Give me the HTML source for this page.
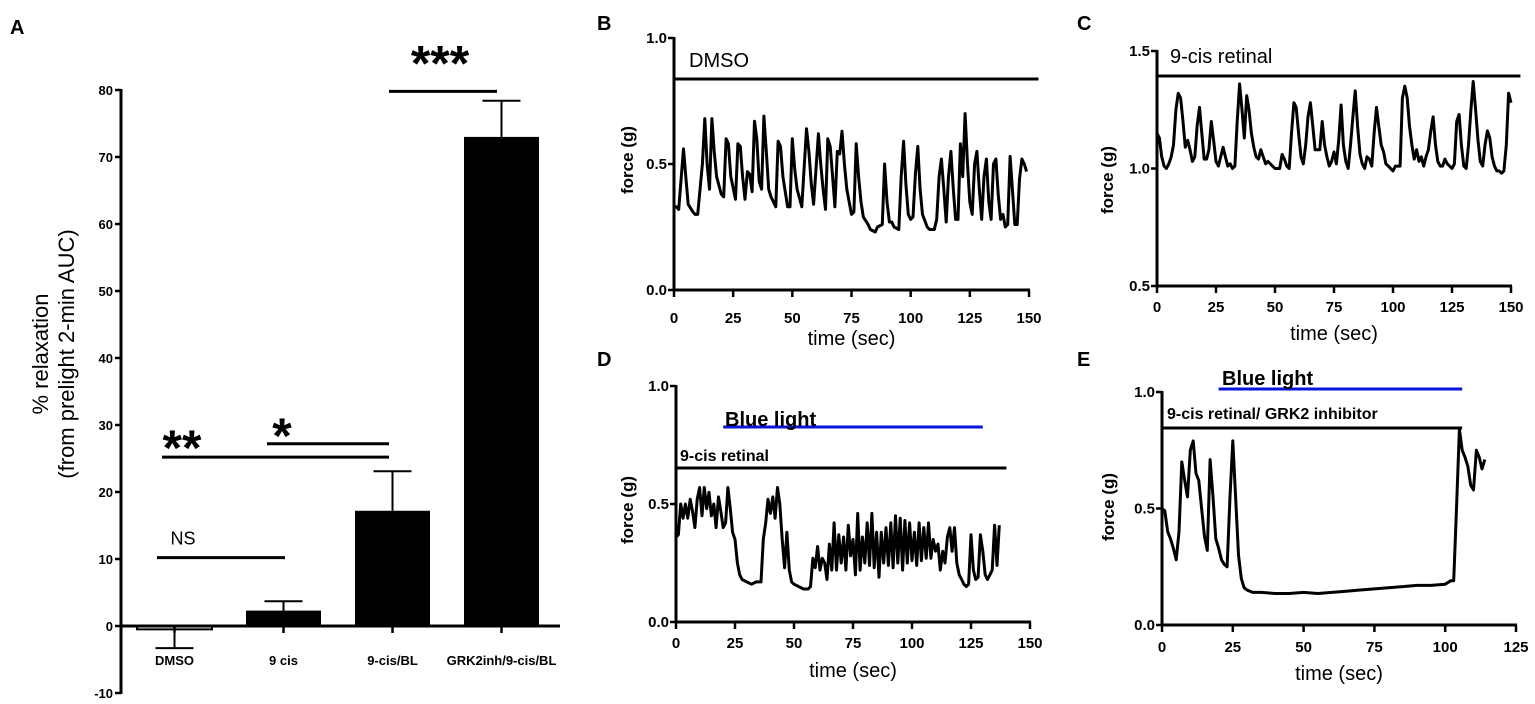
<!DOCTYPE html>
<html><head><meta charset="utf-8"><style>
html,body{margin:0;padding:0;background:#fff;}
svg{display:block;font-family:"Liberation Sans",Arial,sans-serif;}
</style></head><body>
<svg id="fig" width="1535" height="704" viewBox="0 0 1535 704">
<text x="10" y="34" font-size="20" font-weight="bold">A</text>
<text x="597" y="30" font-size="20" font-weight="bold">B</text>
<text x="1077" y="30" font-size="20" font-weight="bold">C</text>
<text x="597" y="366" font-size="20" font-weight="bold">D</text>
<text x="1077" y="366" font-size="20" font-weight="bold">E</text>
<g id="gA"></g>
<g id="gB"></g>
<g id="gC"></g>
<g id="gD"></g>
<g id="gE"></g>
</svg>
<script>
// ---- Panel A data ----
const barCategories = ["DMSO", "9 cis", "9-cis/BL", "GRK2inh/9-cis/BL"];
const barValues = [-0.5, 2.3, 17.2, 73.0];
const barErrors = [2.8, 1.4, 5.9, 5.4];
const barTicks = [-10, 0, 10, 20, 30, 40, 50, 60, 70, 80];
const sigLabels = ["NS", "**", "*", "***"];
const sigLevels = [10.2, 25.2, 27.2, 79.8];
const sigFrom = [0, 0, 1, 2.5];
const sigTo = [1, 2, 2, 3];

// ---- Panel B data (time s, force g) ----
const bTime = [0,1,2,4,5,6,8,9,10,12,13,14,15,16,17,18,20,21,22,23,24,26,27,28,29,30,31,32,33,34,35,36,37,38,39,40,41,43,44,45,46,48,49,50,51,52,54,56,57,58,59,61,62,63,64,65,66,67,68,69,70,71,72,73,75,76,77,78,79,80,82,83,85,86,88,89,90,91,92,93,95,96,97,98,99,100,101,102,103,104,105,107,108,110,111,112,113,114,115,116,117,118,119,120,121,122,123,124,125,126,127,128,129,130,131,132,133,134,135,136,137,138,139,140,141,142,143,144,145,146,147,148,149];
const bForce = [0.33,0.33,0.32,0.56,0.45,0.34,0.31,0.30,0.30,0.50,0.68,0.50,0.40,0.68,0.55,0.45,0.38,0.37,0.60,0.58,0.45,0.36,0.58,0.57,0.45,0.36,0.47,0.46,0.39,0.67,0.60,0.43,0.40,0.69,0.55,0.40,0.37,0.33,0.59,0.57,0.45,0.33,0.33,0.60,0.48,0.40,0.33,0.64,0.55,0.42,0.34,0.62,0.50,0.40,0.32,0.60,0.57,0.45,0.33,0.55,0.54,0.63,0.50,0.40,0.30,0.31,0.58,0.45,0.35,0.29,0.26,0.24,0.23,0.25,0.26,0.50,0.35,0.27,0.27,0.25,0.24,0.45,0.59,0.42,0.30,0.28,0.29,0.46,0.57,0.40,0.30,0.25,0.24,0.24,0.28,0.45,0.52,0.40,0.27,0.45,0.55,0.40,0.28,0.28,0.58,0.45,0.70,0.50,0.35,0.30,0.50,0.55,0.40,0.28,0.45,0.52,0.35,0.28,0.50,0.52,0.38,0.28,0.30,0.25,0.26,0.53,0.40,0.26,0.26,0.44,0.52,0.50,0.47];
const bTicksX = [0,25,50,75,100,125,150];
const bTicksY = ["0.0","0.5","1.0"];

// ---- Panel C data ----
const cTime = [0,1,2,3,4,5,6,7,8,9,10,11,12,13,14,15,16,17,18,19,20,21,22,23,24,25,26,27,28,29,30,31,32,33,34,35,36,37,38,39,40,41,42,43,44,45,46,47,48,50,52,53,54,55,56,57,58,59,60,61,62,63,64,65,66,67,68,69,70,71,72,73,74,75,76,77,78,79,80,81,82,83,84,85,86,87,88,89,90,91,92,93,94,95,96,97,98,99,100,101,103,104,105,106,107,108,109,110,111,112,113,114,115,116,117,118,119,120,121,122,123,124,125,126,127,128,129,130,131,132,133,134,135,136,137,138,139,140,141,142,143,144,145,146,147,148,149,150];
const cForce = [1.15,1.13,1.05,1.01,1.00,1.02,1.05,1.10,1.25,1.32,1.30,1.20,1.09,1.12,1.08,1.03,1.05,1.18,1.26,1.15,1.04,1.04,1.08,1.20,1.12,1.03,1.01,1.05,1.09,1.05,1.01,1.02,1.00,1.01,1.20,1.36,1.25,1.13,1.31,1.25,1.15,1.09,1.05,1.04,1.08,1.05,1.02,1.03,1.02,1.00,1.00,1.06,1.04,1.01,1.00,1.15,1.28,1.26,1.15,1.05,1.02,1.10,1.22,1.28,1.18,1.08,1.08,1.08,1.20,1.10,1.05,1.01,1.03,1.07,1.02,1.12,1.27,1.10,1.03,1.00,1.10,1.22,1.33,1.18,1.06,1.02,1.00,1.05,1.04,1.01,1.15,1.26,1.18,1.10,1.07,1.02,1.01,1.00,0.99,1.01,1.01,1.30,1.35,1.30,1.18,1.10,1.04,1.08,1.03,1.05,1.01,1.05,1.08,1.16,1.22,1.10,1.03,1.01,1.01,1.04,1.02,1.01,1.00,1.02,1.20,1.23,1.10,1.01,1.00,1.10,1.25,1.37,1.25,1.12,1.03,1.01,1.10,1.16,1.13,1.05,1.01,0.99,0.99,0.98,0.99,1.10,1.32,1.28];
const cTicksX = [0,25,50,75,100,125,150];
const cTicksY = ["0.5","1.0","1.5"];

// ---- Panel D data ----
const dTime = [0,1,2,3,4,5,6,7,8,9,10,11,12,13,14,15,16,17,18,19,20,21,22,23,24,25,26,27,28,30,32,34,36,37,38,39,40,41,42,43,44,45,46,47,48,49,50,52,54,56,57,58,59,60,61,62,63,64,65,66,67,68,69,70,71,72,73,74,75,76,77,78,79,80,81,82,83,84,85,86,87,88,89,90,91,92,93,94,95,96,97,98,99,100,101,102,103,104,105,106,107,108,109,110,111,112,113,114,115,116,117,118,119,120,121,122,123,124,125,126,127,128,129,130,131,132,133,134,135,136,137];
const dForce = [0.36,0.37,0.50,0.44,0.50,0.44,0.52,0.47,0.40,0.52,0.57,0.45,0.57,0.48,0.55,0.45,0.50,0.40,0.53,0.47,0.40,0.42,0.57,0.48,0.38,0.35,0.25,0.20,0.18,0.17,0.16,0.17,0.17,0.35,0.42,0.52,0.46,0.53,0.44,0.57,0.50,0.35,0.23,0.38,0.22,0.17,0.16,0.15,0.14,0.14,0.15,0.27,0.23,0.32,0.22,0.27,0.25,0.18,0.33,0.22,0.42,0.22,0.37,0.25,0.36,0.22,0.41,0.28,0.35,0.20,0.46,0.22,0.36,0.25,0.42,0.24,0.46,0.23,0.38,0.19,0.38,0.25,0.40,0.24,0.42,0.23,0.45,0.25,0.44,0.22,0.43,0.25,0.42,0.26,0.38,0.24,0.42,0.26,0.40,0.27,0.42,0.27,0.35,0.30,0.33,0.22,0.30,0.25,0.36,0.40,0.30,0.40,0.25,0.20,0.18,0.16,0.15,0.16,0.37,0.22,0.18,0.19,0.37,0.30,0.20,0.18,0.20,0.22,0.41,0.24,0.41];
const dTicksX = [0,25,50,75,100,125,150];
const dTicksY = ["0.0","0.5","1.0"];

// ---- Panel E data ----
const eTime = [0,1,2,3,4,5,6,7,8,9,10,11,12,13,14,15,16,17,18,19,20,21,22,23,24,25,26,27,28,29,30,32,35,40,45,50,55,60,65,70,75,80,85,90,95,100,102,103,104,105,106,107,108,109,110,111,112,113,114];
const eForce = [0.50,0.49,0.40,0.37,0.33,0.28,0.40,0.70,0.62,0.55,0.75,0.79,0.65,0.62,0.50,0.38,0.32,0.71,0.55,0.37,0.33,0.28,0.26,0.25,0.55,0.79,0.55,0.30,0.20,0.16,0.15,0.14,0.14,0.135,0.135,0.14,0.135,0.14,0.145,0.15,0.155,0.16,0.165,0.17,0.17,0.175,0.19,0.19,0.50,0.84,0.75,0.72,0.68,0.60,0.58,0.75,0.72,0.67,0.71];
const eTicksX = [0,25,50,75,100,125];
const eTicksY = ["0.0","0.5","1.0"];

const NS = "http://www.w3.org/2000/svg";
function mk(parent, tag, attrs, text){
  const el = document.createElementNS(NS, tag);
  for (const k in attrs) el.setAttribute(k, attrs[k]);
  if (text !== undefined) el.textContent = text;
  parent.appendChild(el);
  return el;
}

// ===== Panel A =====
(function(){
  const g = document.getElementById('gA');
  const ax = 121, y0 = 626, pxPer = 6.7;
  const ys = v => y0 - v * pxPer;
  const cx0 = 174.5, step = 109, bw = 75;
  const xs = i => cx0 + i * step;
  let l = mk(g,'line',{x1:ax,y1:ys(80)-1,x2:ax,y2:ys(-10)+1,stroke:'#000','stroke-width':3});
  
  
  barTicks.forEach(t=>{
    const tk = mk(g,'line',{x1:ax-6,y1:ys(t),x2:ax,y2:ys(t),stroke:'#000','stroke-width':2.5});
    
    
    const tx = mk(g,'text',{x:ax-8,y:ys(t)+5,'font-size':13,'font-weight':'bold','text-anchor':'end'},String(t));
    
    
  });
  barValues.forEach((v,i)=>{
    const top = Math.min(ys(v), y0), h = Math.abs(ys(v)-y0);
    const r = mk(g,'rect',{x:xs(i)-bw/2,y:top,width:bw,height:Math.max(h,1),fill: v<0?'#fff':'#000',stroke:'#000','stroke-width': v<0?2:0});
    
    
    const e = v + (v<0 ? -barErrors[i] : barErrors[i]);
    const el = mk(g,'path',{d:`M${xs(i)},${ys(v)} L${xs(i)},${ys(e)} M${xs(i)-19},${ys(e)} L${xs(i)+19},${ys(e)}`,stroke:'#000','stroke-width':2,fill:'none'});
    
    
    const tk = mk(g,'line',{x1:xs(i),y1:y0,x2:xs(i),y2:y0+7,stroke:'#000','stroke-width':2.5});
    
    
    const lb = mk(g,'text',{x:xs(i),y:665,'font-size':13,'font-weight':'bold','text-anchor':'middle'},barCategories[i]);
    
    
  });
  const xa = mk(g,'line',{x1:ax,y1:y0,x2:560,y2:y0,stroke:'#000','stroke-width':3});
  
  
  const sx1 = [157,162,267,389], sx2=[285,389,389,497];
  sigLabels.forEach((s,i)=>{
    const y = ys(sigLevels[i]);
    const ln = mk(g,'line',{x1:sx1[i],y1:y,x2:sx2[i],y2:y,stroke:'#000','stroke-width':3});
    
    
    let tx, ty, fs;
    if (s==='NS'){tx=183;ty=y-13;fs=18;}
    else if(s==='**'){tx=182;ty=y+8;fs=50;}
    else if(s==='*'){tx=282;ty=y+9;fs=50;}
    else {tx=440;ty=y-11;fs=50;}
    const t = mk(g,'text',{x:tx,y:ty,'font-size':fs,'font-weight':s==='NS'?'normal':'bold','text-anchor':'middle'},s);
    
    
  });
  const yl = mk(g,'text',{transform:'translate(48,354) rotate(-90)','font-size':22,'text-anchor':'middle'});
  
  
  mk(yl,'tspan',{x:0,y:0},'% relaxation');
  mk(yl,'tspan',{x:0,y:26},'(from prelight 2-min AUC)');
})();

// ===== Trace panels =====
function trace(id, o, times, forces, ticksX, ticksY){
  const g = document.getElementById(id);
  const xs = t => o.x0 + (t - o.tmin)/(o.tmax - o.tmin)*(o.x1 - o.x0);
  const ys = v => o.y0 - (v - o.vmin)/(o.vmax - o.vmin)*(o.y0 - o.y1);
  const ya = mk(g,'line',{x1:o.x0,y1:o.y1-1,x2:o.x0,y2:o.y0+1,stroke:'#000','stroke-width':3});
  
  
  const xa = mk(g,'line',{x1:o.x0-1,y1:o.y0,x2:o.x1+1,y2:o.y0,stroke:'#000','stroke-width':3});
  
  
  ticksY.forEach(s=>{
    const v = parseFloat(s);
    const tk = mk(g,'line',{x1:o.x0-6,y1:ys(v),x2:o.x0,y2:ys(v),stroke:'#000','stroke-width':2.5});
    
    
    const tx = mk(g,'text',{x:o.x0-7,y:ys(v)+5,'font-size':15,'font-weight':'bold','text-anchor':'end'},s);
    
    
  });
  ticksX.forEach(t=>{
    const tk = mk(g,'line',{x1:xs(t),y1:o.y0,x2:xs(t),y2:o.y0+7,stroke:'#000','stroke-width':2.5});
    
    
    const tx = mk(g,'text',{x:xs(t),y:o.tly,'font-size':15,'font-weight':'bold','text-anchor':'middle'},String(t));
    
    
  });
  const xl = mk(g,'text',{x:(o.x0+o.x1)/2,y:o.xly,'font-size':20,'text-anchor':'middle'},'time (sec)');
  
  
  const yl = mk(g,'text',{transform:`translate(${o.ylx},${o.yly}) rotate(-90)`,'font-size':17,'font-weight':'bold','text-anchor':'middle'},'force (g)');
  
  
  let d = '';
  times.forEach((t,i)=>{ d += (i?'L':'M') + xs(t).toFixed(1) + ',' + ys(forces[i]).toFixed(1); });
  const p = mk(g,'path',{d:d,fill:'none',stroke:'#000','stroke-width':3,'stroke-linejoin':'round'});
  
  
  o.bars.forEach(b=>{
    const ln = mk(g,'line',{x1:xs(b.t0),y1:b.y,x2:xs(b.t1),y2:b.y,stroke:b.c,'stroke-width':3});
    
    
    const tx = mk(g,'text',{x:b.tx,y:b.ty,'font-size':b.fs,'font-weight':b.bold?'bold':'normal'},b.label);
    
    
  });
}
trace('gB',{x0:674,x1:1029,y0:290,y1:38,tmin:0,tmax:150,vmin:0,vmax:1,tly:323,xly:345,ylx:633,yly:160,
  bars:[{t0:0,t1:154,y:79,c:'#000',label:'DMSO',tx:689,ty:67,fs:20,bold:false,name:'dmso-treatment'}]},
  bTime,bForce,bTicksX,bTicksY);
trace('gC',{x0:1157,x1:1511,y0:286,y1:51,tmin:0,tmax:150,vmin:0.5,vmax:1.5,tly:312,xly:340,ylx:1113,yly:180,
  bars:[{t0:0,t1:154,y:76,c:'#000',label:'9-cis retinal',tx:1170,ty:63,fs:20,bold:false,name:'retinal-treatment'}]},
  cTime,cForce,cTicksX,cTicksY);
trace('gD',{x0:676,x1:1030,y0:622,y1:386,tmin:0,tmax:150,vmin:0,vmax:1,tly:648,xly:677,ylx:633,yly:510,
  bars:[{t0:20,t1:130,y:427,c:'#0a14d8',label:'Blue light',tx:725,ty:426,fs:20,bold:true,name:'blue-light'},
        {t0:0,t1:140,y:468,c:'#000',label:'9-cis retinal',tx:680,ty:461,fs:16,bold:true,name:'retinal-treatment'}]},
  dTime,dForce,dTicksX,dTicksY);
trace('gE',{x0:1162,x1:1516,y0:625,y1:392,tmin:0,tmax:125,vmin:0,vmax:1,tly:652,xly:680,ylx:1114,yly:507,
  bars:[{t0:20,t1:106,y:389,c:'#0a14d8',label:'Blue light',tx:1222,ty:385,fs:20,bold:true,name:'blue-light'},
        {t0:0,t1:106,y:428,c:'#000',label:'9-cis retinal/ GRK2 inhibitor',tx:1167,ty:419,fs:16,bold:true,name:'retinal-inhibitor-treatment'}]},
  eTime,eForce,eTicksX,eTicksY);
</script>
</body></html>
